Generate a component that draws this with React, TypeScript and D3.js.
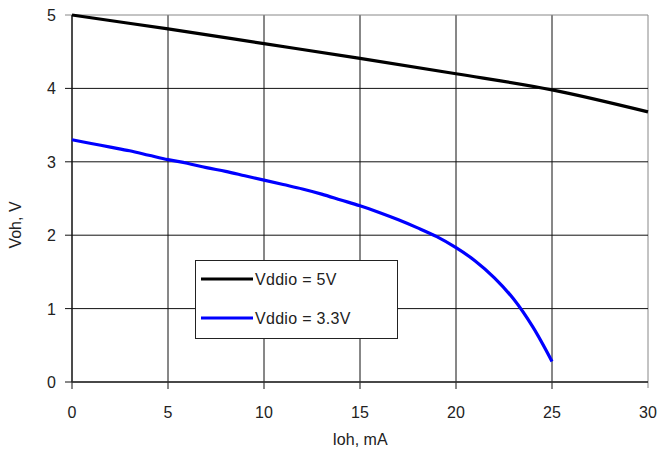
import React from "react";
import * as d3 from "d3";

const xTicks = [0, 5, 10, 15, 20, 25, 30];
const yTicks = [0, 1, 2, 3, 4, 5];

const ioh5 = [0, 5, 10, 15, 20, 25, 30];
const voh5 = [5.0, 4.81, 4.61, 4.41, 4.2, 3.98, 3.68];

const ioh33 = [0, 1, 2, 3, 4, 5, 6, 7, 8, 9, 10, 11, 12, 13, 14, 15, 16, 17, 18, 19, 20, 21, 22, 23, 24, 25];
const voh33 = [3.3, 3.25, 3.2, 3.15, 3.09, 3.03, 2.98, 2.92, 2.87, 2.81, 2.75, 2.69, 2.63, 2.56, 2.48, 2.4, 2.31, 2.21, 2.1, 1.98, 1.83, 1.65, 1.42, 1.13, 0.75, 0.28];

const seriesNames = ["Vddio = 5V", "Vddio = 3.3V"];
const seriesColors = ["#000000", "#0000ff"];

export default function App() {
  const W = 660, H = 460;
  const x = d3.scaleLinear().domain([0, 30]).range([72, 648]);
  const y = d3.scaleLinear().domain([0, 5]).range([382, 15]);
  const line = d3.line<[number, number]>().x(d => x(d[0])).y(d => y(d[1])).curve(d3.curveCatmullRom.alpha(0.5));
  const d5 = line(ioh5.map((v, i) => [v, voh5[i]] as [number, number]))!;
  const d33 = line(ioh33.map((v, i) => [v, voh33[i]] as [number, number]))!;
  const font = "'Liberation Sans', Arial, sans-serif";
  return (
    <svg width={W} height={H} style={{ position: "absolute", left: 0, top: 0, background: "#fff" }} fontFamily={font}>
      {xTicks.map(t => (
        <line key={"gx" + t} x1={x(t)} x2={x(t)} y1={y(5)} y2={y(0) + (t === 30 ? 6 : 7)} stroke={t === 30 ? "#888" : "#111"} strokeWidth={1} />
      ))}
      {yTicks.map(t => (
        <line key={"gy" + t} x1={x(0) - 7} x2={x(30)} y1={y(t)} y2={y(t)} stroke={t === 5 ? "#888" : "#111"} strokeWidth={1} />
      ))}
      <line x1={x(0)} x2={x(0)} y1={y(5)} y2={y(0)} stroke="#111" />
      <line x1={x(0)} x2={x(30)} y1={y(0)} y2={y(0)} stroke="#333" strokeWidth={1.5} />
      {xTicks.map(t => (
        <text key={"tx" + t} x={x(t)} y={418} textAnchor="middle" fontSize={16} fill="#222">{t}</text>
      ))}
      {yTicks.map(t => (
        <text key={"ty" + t} x={56} y={y(t) + 6} textAnchor="end" fontSize={16} fill="#222">{t}</text>
      ))}
      <text x={360} y={445} textAnchor="middle" fontSize={16} fill="#222">Ioh, mA</text>
      <text transform={`translate(21,${225}) rotate(-90)`} textAnchor="middle" fontSize={16} fill="#222">Voh, V</text>
      <path d={d5} fill="none" stroke={seriesColors[0]} strokeWidth={3.2} />
      <path d={d33} fill="none" stroke={seriesColors[1]} strokeWidth={3.2} />
      <rect x={195.5} y={260.5} width={202} height={78} fill="#fff" stroke="#222" strokeWidth={1} />
      {seriesNames.map((n, i) => (
        <g key={n}>
          <line x1={201} x2={253} y1={279 + i * 39} y2={279 + i * 39} stroke={seriesColors[i]} strokeWidth={3.2} />
          <text x={255} y={279 + i * 39 + 6} fontSize={16} fill="#222" letterSpacing={0.3}>{n}</text>
        </g>
      ))}
    </svg>
  );
}
